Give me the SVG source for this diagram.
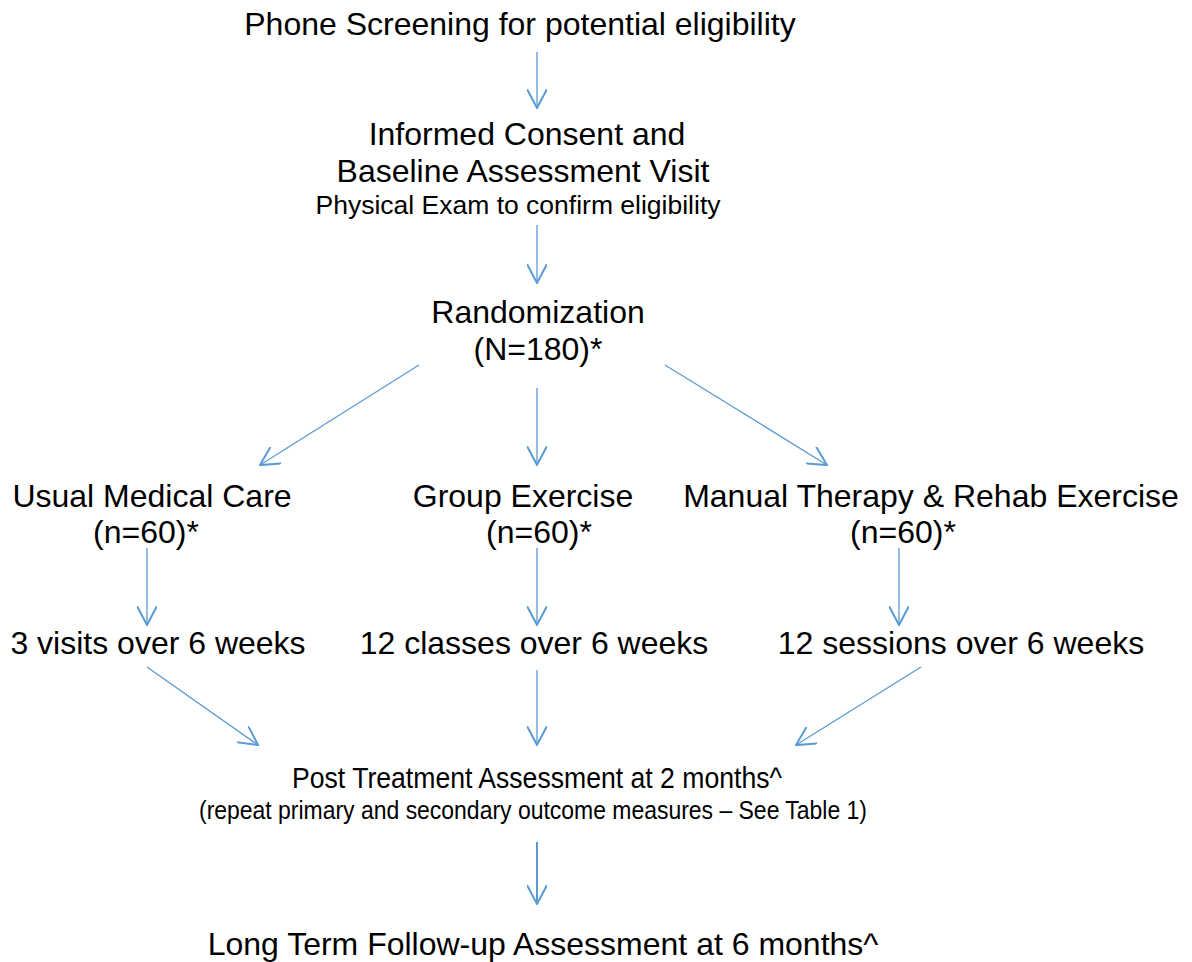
<svg xmlns="http://www.w3.org/2000/svg" width="1192" height="962" viewBox="0 0 1192 962">
<style>
text{font-family:"Liberation Sans",Arial,sans-serif;fill:#000;text-anchor:middle}
.b{font-size:32px}
.s{font-size:26.5px}
.c{stroke:#5b9bd5;stroke-width:1.3;fill:none}
</style>
<defs>
<marker id="a2" viewBox="0 0 20 20" refX="19" refY="10" markerWidth="20" markerHeight="20" markerUnits="userSpaceOnUse" orient="auto">
<path d="M0,0 L19,10 L0,20" fill="none" stroke="#5b9bd5" stroke-width="2"/>
</marker>
</defs>
<rect width="1192" height="962" fill="#fff"/>
<g id="connectors">
<path class="c" d="M537,52 L537,108" marker-end="url(#a2)"/>
<path class="c" d="M537,225 L537,283" marker-end="url(#a2)"/>
<path class="c" d="M419,365 L260,465" marker-end="url(#a2)"/>
<path class="c" d="M537,388 L537,465" marker-end="url(#a2)"/>
<path class="c" d="M665,365 L827,465" marker-end="url(#a2)"/>
<path class="c" d="M147,548 L147,625" marker-end="url(#a2)"/>
<path class="c" d="M537,548 L537,625" marker-end="url(#a2)"/>
<path class="c" d="M899,548 L899,625" marker-end="url(#a2)"/>
<path class="c" d="M147,667 L258,745" marker-end="url(#a2)"/>
<path class="c" d="M537,670 L537,745" marker-end="url(#a2)"/>
<path class="c" d="M921,667 L796,745" marker-end="url(#a2)"/>
<path class="c" d="M537,842 L537,904" style="stroke-width:2" marker-end="url(#a2)"/>
</g>
<g id="n1"><text class="b" x="520" y="35">Phone Screening for potential eligibility</text></g>
<g id="n2">
<text class="b" x="527" y="145">Informed Consent and</text>
<text class="b" x="523" y="182">Baseline Assessment Visit</text>
<text class="s" x="518" y="214">Physical Exam to confirm eligibility</text>
</g>
<g id="n3">
<text class="b" x="538" y="323">Randomization</text>
<text class="b" x="538" y="360">(N=180)*</text>
</g>
<g id="n4">
<text class="b" x="152" y="507">Usual Medical Care</text>
<text class="b" x="146" y="543">(n=60)*</text>
</g>
<g id="n5">
<text class="b" x="523" y="507">Group Exercise</text>
<text class="b" x="539" y="543">(n=60)*</text>
</g>
<g id="n6">
<text class="b" x="931" y="507">Manual Therapy &amp; Rehab Exercise</text>
<text class="b" x="903" y="543">(n=60)*</text>
</g>
<g id="n7"><text class="b" x="158" y="654">3 visits over 6 weeks</text></g>
<g id="n8"><text class="b" x="534" y="654">12 classes over 6 weeks</text></g>
<g id="n9"><text class="b" x="961" y="654">12 sessions over 6 weeks</text></g>
<g id="n10">
<text x="537" y="788" style="font-size:30px" textLength="490" lengthAdjust="spacingAndGlyphs">Post Treatment Assessment at 2 months^</text>
<text x="533" y="819" style="font-size:26px" textLength="668" lengthAdjust="spacingAndGlyphs">(repeat primary and secondary outcome measures – See Table 1)</text>
</g>
<g id="n11"><text class="b" x="543" y="955">Long Term Follow-up Assessment at 6 months^</text></g>
</svg>
